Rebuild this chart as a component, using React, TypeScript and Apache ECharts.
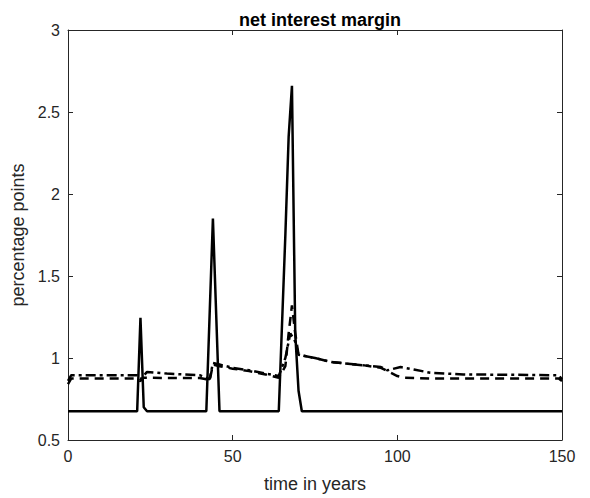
import React, { useEffect, useRef } from "react";
import * as echarts from "echarts";

// solid line (spikes)
const solidT = [0, 21, 22, 23, 24, 42, 44, 46, 64, 66, 67, 68, 69, 70, 71, 150];
const solidV = [0.675, 0.675, 1.245, 0.7, 0.675, 0.675, 1.85, 0.675, 0.675, 1.75, 2.35, 2.66, 1.15, 0.8, 0.675, 0.675];

// dashed line
const dashT = [0, 1, 20, 22, 23, 30, 40, 42, 43, 44, 46, 50, 55, 60, 64, 66, 67, 68, 69, 70, 75, 80, 85, 90, 95, 97, 100, 102, 110, 149, 150];
const dashV = [0.84, 0.875, 0.875, 0.86, 0.88, 0.878, 0.878, 0.87, 0.86, 0.96, 0.95, 0.935, 0.92, 0.9, 0.88, 0.95, 1.15, 1.32, 1.15, 1.02, 1.0, 0.975, 0.965, 0.955, 0.94, 0.92, 0.89, 0.88, 0.875, 0.875, 0.86];

// dash-dot line
const dotT = [0, 1, 21, 22, 24, 30, 40, 43, 44, 46, 50, 55, 60, 64, 66, 67.5, 69, 70, 75, 80, 90, 95, 97, 101, 105, 110, 120, 149, 150];
const dotV = [0.86, 0.895, 0.895, 0.87, 0.915, 0.905, 0.895, 0.87, 0.97, 0.96, 0.94, 0.925, 0.905, 0.89, 1.0, 1.15, 1.1, 1.02, 1.0, 0.975, 0.955, 0.945, 0.925, 0.945, 0.93, 0.91, 0.9, 0.895, 0.87];

const xTicks = [0, 50, 100, 150];
const yTicks = [0.5, 1, 1.5, 2, 2.5, 3];

const FONT = "Liberation Sans, Arial, Helvetica, sans-serif";
const AX = "#262626";

const pairs = (t: number[], v: number[]) => t.map((x, i) => [x, v[i]]);

export default function App() {
  const ref = useRef<HTMLDivElement>(null);
  useEffect(() => {
    if (!ref.current) return;
    const chart = echarts.init(ref.current, null, { renderer: "svg" });
    const axisCommon = {
      type: "value" as const,
      axisLine: { show: true, onZero: false, lineStyle: { color: AX, width: 1 } },
      axisTick: { show: true, inside: true, length: 5, lineStyle: { color: AX } },
      splitLine: { show: false },
    };
    chart.setOption({
      animation: false,
      backgroundColor: "#fff",
      title: {
        text: "net interest margin",
        left: 315,
        top: 6,
        textAlign: "center",
        textStyle: { fontFamily: FONT, fontSize: 18, fontWeight: "bold", color: "#000" },
      },
      grid: { left: 68, right: 28, top: 30, bottom: 57, containLabel: false },
      xAxis: [
        {
          ...axisCommon,
          position: "bottom",
          min: xTicks[0],
          max: xTicks[xTicks.length - 1],
          interval: 50,
          axisLabel: { show: true, fontFamily: FONT, fontSize: 16, color: AX, margin: 8 },
          name: "time in years",
          nameLocation: "middle",
          nameGap: 35,
          nameTextStyle: { fontFamily: FONT, fontSize: 18, color: AX },
        },
        {
          ...axisCommon,
          position: "top",
          min: xTicks[0],
          max: xTicks[xTicks.length - 1],
          interval: 50,
          axisLabel: { show: false },
        },
      ],
      yAxis: [
        {
          ...axisCommon,
          position: "left",
          min: yTicks[0],
          max: yTicks[yTicks.length - 1],
          interval: 0.5,
          axisLabel: { show: true, fontFamily: FONT, fontSize: 16, color: AX, margin: 8 },
          name: "percentage points",
          nameLocation: "middle",
          nameGap: 34,
          nameRotate: 90,
          nameTextStyle: { fontFamily: FONT, fontSize: 18, color: AX },
        },
        {
          ...axisCommon,
          position: "right",
          min: yTicks[0],
          max: yTicks[yTicks.length - 1],
          interval: 0.5,
          axisLabel: { show: false },
        },
      ],
      series: [
        {
          type: "line",
          data: pairs(dashT, dashV),
          showSymbol: false,
          lineStyle: { color: "#000", width: 2.5, type: [9, 6] },
          z: 2,
        },
        {
          type: "line",
          data: pairs(dotT, dotV),
          showSymbol: false,
          lineStyle: { color: "#000", width: 2.5, type: [10, 4, 3, 4] },
          z: 2,
        },
        {
          type: "line",
          data: pairs(solidT, solidV),
          showSymbol: false,
          lineStyle: { color: "#000", width: 2.5 },
          z: 3,
        },
      ],
    });
    return () => chart.dispose();
  }, []);
  return <div ref={ref} style={{ width: 590, height: 498, position: "absolute", left: 0, top: 0 }} />;
}
